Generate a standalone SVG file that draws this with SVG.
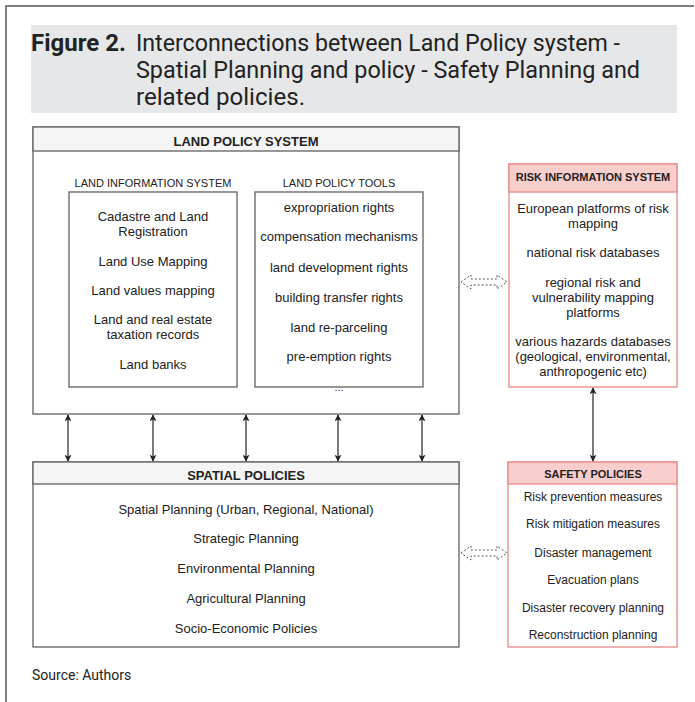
<svg xmlns="http://www.w3.org/2000/svg" width="695" height="702" viewBox="0 0 695 702">
<style>
.frame{fill:none;stroke:#555;stroke-width:1.5}
.box{fill:#fff;stroke:#6b6b6b;stroke-width:1.4}
.hdr{fill:#f4f5f4;stroke:#6b6b6b;stroke-width:1.4}
.rbox{fill:#fff;stroke:#e8908d;stroke-width:1.4}
.rhdr{fill:#f8cecc;stroke:#e8908d;stroke-width:1.4}
.t{font-family:"Liberation Sans",Arial,sans-serif;font-size:13px;fill:#222;text-anchor:middle}
.s12{font-size:12px}
.sm{font-size:11px}
.b{font-weight:bold}
.title{font-family:Roboto,"Liberation Sans",sans-serif;font-size:24px;fill:#222}
.conn{stroke:#333;stroke-width:1.3;fill:none}
.flex{fill:#fff;stroke:#555;stroke-width:1;stroke-dasharray:2 2}
</style>
<defs>
<marker id="ah" viewBox="0 0 10 10" refX="9" refY="5" markerWidth="7" markerHeight="7" orient="auto-start-reverse" markerUnits="userSpaceOnUse">
<path d="M0,0 L10,5 L0,10 L2.5,5 Z" fill="#222"/>
</marker>
</defs>
<rect width="695" height="702" fill="#fff"/>
<path class="frame" d="M6,702 V6 H694"/>
<rect x="31" y="25" width="646" height="88" fill="#e6e7e8"/>
<text class="title" x="31" y="51" font-weight="bold">Figure 2.</text>
<text class="title" x="136" y="51" textLength="484" lengthAdjust="spacingAndGlyphs">Interconnections between Land Policy system -</text>
<text class="title" x="136" y="78" textLength="504" lengthAdjust="spacingAndGlyphs">Spatial Planning and policy - Safety Planning and</text>
<text class="title" x="136" y="105" textLength="169" lengthAdjust="spacingAndGlyphs">related policies.</text>

<g id="land-policy-system">
<rect class="box" x="33" y="127" width="426" height="287"/>
<rect class="hdr" x="33" y="127" width="426" height="24"/>
<text class="t b" x="246" y="146">LAND POLICY SYSTEM</text>
</g>
<g id="land-information-system">
<text class="t sm" x="153" y="187">LAND INFORMATION SYSTEM</text>
<rect class="box" x="69" y="192" width="168" height="195"/>
<text class="t" x="153" y="221">Cadastre and Land</text>
<text class="t" x="153" y="236">Registration</text>
<text class="t" x="153" y="266">Land Use Mapping</text>
<text class="t" x="153" y="295">Land values mapping</text>
<text class="t" x="153" y="324">Land and real estate</text>
<text class="t" x="153" y="339">taxation records</text>
<text class="t" x="153" y="369">Land banks</text>
</g>
<g id="land-policy-tools">
<text class="t sm" x="339" y="187">LAND POLICY TOOLS</text>
<rect class="box" x="255" y="192" width="168" height="195"/>
<text class="t" x="339" y="212">expropriation rights</text>
<text class="t" x="339" y="241">compensation mechanisms</text>
<text class="t" x="339" y="272">land development rights</text>
<text class="t" x="339" y="302">building transfer rights</text>
<text class="t" x="339" y="332">land re-parceling</text>
<text class="t" x="339" y="361">pre-emption rights</text>
<text class="t sm" x="339" y="391">...</text>
</g>
<g id="risk-information-system">
<rect class="rbox" x="509" y="164" width="168" height="223"/>
<rect class="rhdr" x="509" y="164" width="168" height="28"/>
<text class="t sm b" x="593" y="181">RISK INFORMATION SYSTEM</text>
<text class="t" x="593" y="213">European platforms of risk</text>
<text class="t" x="593" y="228">mapping</text>
<text class="t" x="593" y="257">national risk databases</text>
<text class="t" x="593" y="287">regional risk and</text>
<text class="t" x="593" y="302">vulnerability mapping</text>
<text class="t" x="593" y="317">platforms</text>
<text class="t" x="593" y="346">various hazards databases</text>
<text class="t" x="593" y="361">(geological, environmental,</text>
<text class="t" x="593" y="376">anthropogenic etc)</text>
</g>
<g id="spatial-policies">
<rect class="box" x="33" y="462" width="426" height="185"/>
<rect class="hdr" x="33" y="462" width="426" height="22"/>
<text class="t b" x="246" y="480">SPATIAL POLICIES</text>
<text class="t" x="246" y="514">Spatial Planning (Urban, Regional, National)</text>
<text class="t" x="246" y="543">Strategic Planning</text>
<text class="t" x="246" y="573">Environmental Planning</text>
<text class="t" x="246" y="603">Agricultural Planning</text>
<text class="t" x="246" y="633">Socio-Economic Policies</text>
</g>
<g id="safety-policies">
<rect class="rbox" x="508" y="462" width="169" height="185"/>
<rect class="rhdr" x="508" y="462" width="169" height="22"/>
<text class="t sm b" x="593" y="478">SAFETY POLICIES</text>
<text class="t s12" x="593" y="501">Risk prevention measures</text>
<text class="t s12" x="593" y="528">Risk mitigation measures</text>
<text class="t s12" x="593" y="557">Disaster management</text>
<text class="t s12" x="593" y="584">Evacuation plans</text>
<text class="t s12" x="593" y="612">Disaster recovery planning</text>
<text class="t s12" x="593" y="639">Reconstruction planning</text>
</g>
<g id="connectors">
<line class="conn" x1="68" y1="415" x2="68" y2="461" marker-start="url(#ah)" marker-end="url(#ah)"/>
<line class="conn" x1="153" y1="415" x2="153" y2="461" marker-start="url(#ah)" marker-end="url(#ah)"/>
<line class="conn" x1="246" y1="415" x2="246" y2="461" marker-start="url(#ah)" marker-end="url(#ah)"/>
<line class="conn" x1="338" y1="415" x2="338" y2="461" marker-start="url(#ah)" marker-end="url(#ah)"/>
<line class="conn" x1="422" y1="415" x2="422" y2="461" marker-start="url(#ah)" marker-end="url(#ah)"/>
<line class="conn" x1="593" y1="388" x2="593" y2="461" marker-start="url(#ah)" marker-end="url(#ah)"/>
<path class="flex" d="M461,282 L471,275 L471,279 L497,279 L497,275 L507,282 L497,289 L497,285 L471,285 L471,289 Z"/>
<path class="flex" d="M461,553 L471,546 L471,550 L497,550 L497,546 L507,553 L497,560 L497,556 L471,556 L471,560 Z"/>
</g>
<text x="32" y="680" font-family="Roboto,'Liberation Sans',sans-serif" font-size="14" fill="#222">Source: Authors</text>
</svg>
